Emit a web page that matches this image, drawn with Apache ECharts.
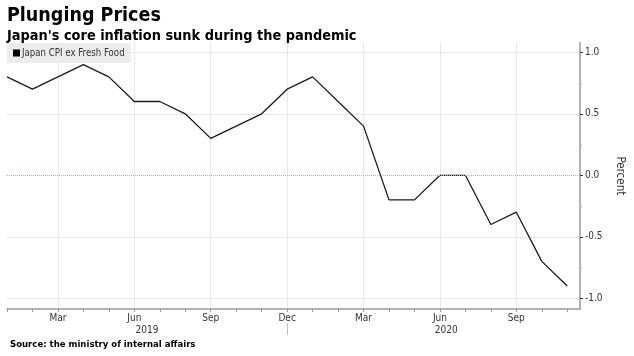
<!DOCTYPE html>
<html>
<head>
<meta charset="utf-8">
<script src="https://cdn.jsdelivr.net/npm/echarts@6/dist/echarts.min.js"></script>
<style>
html,body{margin:0;padding:0;background:#fff;}
#chart{width:634px;height:356px;}
</style>
</head>
<body>
<div id="chart"></div>
<script>
// Monthly data Jan 2019 .. Nov 2020
var months = ['Jan','Feb','Mar','Apr','May','Jun','Jul','Aug','Sep','Oct','Nov','Dec',
              'Jan','Feb','Mar','Apr','May','Jun','Jul','Aug','Sep','Oct','Nov'];
var cpiValues = [0.8,0.7,0.8,0.9,0.8,0.6,0.6,0.5,0.3,0.4,0.5,0.7,
                 0.8,0.6,0.4,-0.2,-0.2,0.0,0.0,-0.4,-0.3,-0.7,-0.9];
var quarterMonthIdx = [2,5,8,11,14,17,20];
var yearLabels = ['2019','2020'];
var yearCenters = [5.5,17.25];
var yearDivider = [11];
var yTicks = [-1,-0.5,0,0.5,1];
var yMinorTicks = [-0.75,-0.25,0.25,0.75];
var seriesName = 'Japan CPI ex Fresh Food';

var FONT = "'DejaVu Sans Condensed','DejaVu Sans',sans-serif";
var monthTicks = months.map(function(m,i){return i;});
var lineData = cpiValues.map(function(v,i){return [i,v];});

var chart = echarts.init(document.getElementById('chart'), null, {renderer:'canvas'});
chart.setOption({
  animation:false,
  backgroundColor:'#fff',
  textStyle:{fontFamily:FONT},
  title:[{
    text:'Plunging Prices',
    subtext:"Japan's core inflation sunk during the pandemic",
    left:2, top:1,
    itemGap:3,
    textStyle:{fontFamily:FONT,fontSize:19.5,fontWeight:'bold',color:'#000'},
    subtextStyle:{fontFamily:FONT,fontSize:14.4,fontWeight:'bold',color:'#000'}
  },{
    text:'Source: the ministry of internal affairs',
    left:5, top:335,
    textStyle:{fontFamily:FONT,fontSize:9.5,fontWeight:'bold',color:'#000'}
  }],
  legend:{
    data:[seriesName],
    left:7, top:43,
    padding:[5,6,5,6],
    backgroundColor:'#ececec',
    icon:'rect', itemWidth:7, itemHeight:7, itemGap:2,
    textStyle:{fontFamily:FONT,fontSize:9.6,color:'#333',padding:[0,0,0,-3]}
  },
  grid:{left:7,right:51,top:42.7,bottom:47,containLabel:false},
  xAxis:[{
    type:'value', min:0, max:22.5,
    axisLine:{show:true,onZero:false,lineStyle:{color:'#999',width:1.5}},
    axisTick:{show:true,customValues:monthTicks,length:3,lineStyle:{color:'#999'}},
    axisLabel:{show:true,customValues:quarterMonthIdx,margin:4,fontSize:10,color:'#333',fontFamily:FONT,
      formatter:function(v){return months[Math.round(v)];}},
    splitLine:{show:false}
  },{
    type:'value', min:0, max:22.5, position:'bottom',
    axisLine:{show:false,onZero:false},
    axisTick:{show:false,customValues:quarterMonthIdx},
    axisLabel:{show:false},
    splitLine:{show:true,lineStyle:{color:'#e6e6e6',width:1}}
  },{
    type:'value', min:0, max:22.5, position:'bottom', offset:14,
    axisLine:{show:false,onZero:false},
    axisTick:{show:true,customValues:yearDivider,length:12,lineStyle:{color:'#bbb'}},
    axisLabel:{show:true,customValues:yearCenters,margin:2,fontSize:10,color:'#333',fontFamily:FONT,
      formatter:function(v){return v<11?yearLabels[0]:yearLabels[1];}},
    splitLine:{show:false}
  }],
  yAxis:[{
    type:'value', position:'right', min:-1.087, max:1.078,
    name:'Percent', nameLocation:'middle', nameRotate:-90, nameGap:34,
    nameTextStyle:{fontFamily:FONT,fontSize:11.5,color:'#333'},
    axisLine:{show:true,onZero:false,lineStyle:{color:'#999',width:1.5}},
    axisTick:{show:true,inside:false,customValues:yTicks,length:3,lineStyle:{color:'#333'}},
    axisLabel:{show:true,customValues:yTicks,margin:5,fontSize:10,color:'#333',fontFamily:FONT,
      formatter:function(v){return v.toFixed(1);}},
    splitLine:{show:true,lineStyle:{color:['#e6e6e6','#e6e6e6','rgba(0,0,0,0)','#e6e6e6','#e6e6e6'],width:1}}
  },{
    type:'value', position:'right', min:-1.087, max:1.078,
    axisLine:{show:false,onZero:false},
    axisTick:{show:true,inside:false,customValues:yMinorTicks,length:2,lineStyle:{color:'#bbb'}},
    axisLabel:{show:false},
    splitLine:{show:false}
  }],
  series:[{
    name:seriesName,
    type:'line',
    xAxisIndex:0, yAxisIndex:0,
    data:lineData,
    showSymbol:false, symbol:'none',
    lineStyle:{color:'#1a1a1a',width:1.3},
    itemStyle:{color:'#000'},
    markLine:{
      silent:true, symbol:'none', label:{show:false},
      lineStyle:{color:'#e8a0a8',type:[1,1],width:1},
      data:[{yAxis:0}]
    }
  }]
});
</script>
</body>
</html>
